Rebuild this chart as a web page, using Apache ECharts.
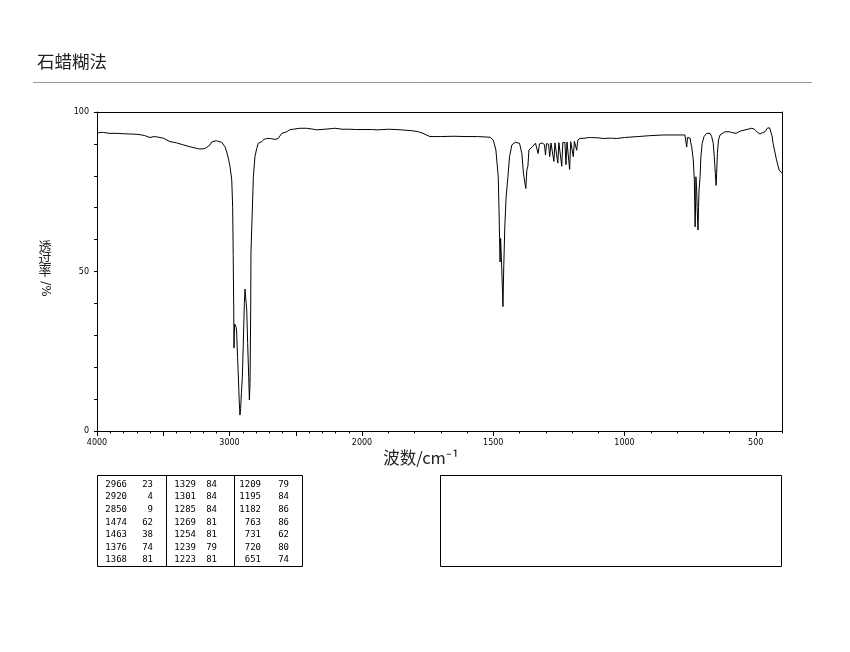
<!DOCTYPE html>
<html>
<head>
<meta charset="utf-8">
<script src="https://cdn.jsdelivr.net/npm/echarts@6/dist/echarts.min.js"></script>
<style>
html,body{margin:0;padding:0;background:#fff;}
#chart{width:850px;height:652px;}
</style>
</head>
<body>
<div id="chart"></div>
<script>
// Spectrum (wavenumber cm-1, transmittance %)
const specWn = [4000,3977,3952,3925,3902,3850,3800,3760,3751,3740,3700,3675,3640,3600,3570,3550,3525,3500,3487,3449,3420,3398,3349,3298,3248,3225,3210,3190,3172,3147,3135,3132,3122,3100,3085,3059,3034,3021,3009,2996,2983,2976,2972,2968,2966,2964,2960,2955,2950,2946,2939,2932,2927,2921,2916,2910,2903,2896,2888,2883,2878,2870,2863,2855,2850,2845,2840,2838,2828,2820,2808,2795,2783,2757,2740,2719,2690,2657,2632,2606,2568,2543,2518,2468,2418,2367,2342,2317,2280,2230,2205,2204,2203,2150,2100,2040,2000,
1960,1940,1900,1870,1850,1806,1785,1768,1741,1700,1650,1600,1560,1512,1500,1490,1481,1478,1476,1474,1472,1468,1463,1460,1456,1451,1444,1438,1429,1416,1400,1391,1385,1380,1376,1372,1368,1364,1351,1339,1335,1329,1324,1315,1305,1301,1297,1289,1285,1280,1273,1269,1265,1258,1254,1250,1243,1239,1235,1227,1223,1219,1213,1209,1205,1199,1195,1191,1186,1182,1178,1170,1150,1138,1132,1131,1130,1100,1082,1050,1030,1000,950,900,850,800,770,763,760,757,750,748,744,738,734,731,729,728,725,723,720,718,716,712,709,704,697,687,674,668,662,658,654,651,649,646,642,636,617,600,592,575,560,554,515,505,496,484,475,465,455,452,447,443,438,434,421,411,400];
const specT = [93.3,93.6,93.6,93.4,93.3,93.3,93.2,93.1,92.8,93.1,93.0,92.9,92.6,92.0,92.3,92.2,92.0,91.8,91.5,90.7,90.5,90.3,89.7,89.1,88.6,88.4,88.3,88.5,88.9,89.7,90.6,90.3,90.8,91.0,90.9,90.5,89.1,87.5,85.5,82.9,78.7,70,55,38,26,31,33.5,33.8,32.5,31,23,15.7,9.7,5,7,12,17,27,40,44.5,42,38,27.5,17,9.7,15,38,55.8,69,79.7,86,88.5,90.2,90.7,91.4,91.7,91.7,91.4,91.7,93.3,93.8,94.5,94.6,94.9,94.9,94.6,94.4,94.5,94.6,94.8,94.9,95.3,94.9,94.6,94.6,94.5,94.5,
94.5,94.4,94.6,94.5,94.4,94.1,93.8,93.3,92.3,92.3,92.4,92.3,92.3,92.1,91.2,88.1,79.7,69.3,60.4,53,60.4,52,39,51.5,64,73.4,79.7,86,89.7,90.5,90.2,87,80.8,78,76,81.8,83,88.1,89.1,90.2,90.2,87,90.0,90.3,89.8,86.5,90.1,89.9,86,90.3,90.1,84.5,90.3,90.2,84,90.4,90.3,83,90.5,90.4,83.5,90.6,90.6,82,90.7,90.7,86,90.8,90.9,88,91.2,91.7,91.8,92.0,92.0,91.5,92.0,91.9,91.7,91.8,91.7,92.0,92.3,92.6,92.8,92.8,92.8,89,92,91.5,91.8,90.5,89.1,85,78.7,64,72,79.7,75.5,69.3,63,70,75.5,79.7,86,90.2,92.3,93.3,93.3,92.3,90.2,86,80.8,77,80.8,87,91.2,92.8,93.8,93.8,93.6,93.3,94.0,94.4,94.9,94.6,93.8,93.1,93.5,93.8,95.0,95.4,95.0,94.4,92.5,90.2,85,81.8,80.8];

// Axis ticks / labels
const xLabelsHigh = [4000, 3000, 2000];
const xMajorHigh = [4000, 3500, 3000, 2500, 2000];
const xLabelsLow = [1500, 1000, 500];
const xMajorLow = [2000, 1500, 1000, 500];
const yLabels = [0, 50, 100];

// Peak table (wavenumber, transmittance), column by column
const peakWn = [2966,2920,2850,1474,1463,1376,1368, 1329,1301,1285,1269,1254,1239,1223, 1209,1195,1182,763,731,720,651];
const peakT  = [23,4,9,62,38,74,81, 84,84,84,81,81,79,81, 79,84,86,86,62,80,74];

const titleText = '石蜡糊法';
const yTitleChars = ['透', '过', '率'];
const yTitleSym = '/%';
const xTitle = '波数/cm⁻¹';

const pairs = specWn.map((w, i) => [w, specT[i]]);
const highData = pairs.filter(p => p[0] >= 2000);
const lowData = pairs.filter(p => p[0] <= 2000);

const chart = echarts.init(document.getElementById('chart'), null, {renderer: 'canvas'});
const tickFont = {fontSize: 8, color: '#000', fontFamily: 'DejaVu Sans', formatter: v => String(v)};
const lineStyle = {color: '#000', width: 1};

function bottomMajor(gi, min, max, majors, labels) {
  return {
    gridIndex: gi, type: 'value', min: min, max: max, inverse: true, position: 'bottom',
    axisLine: {show: true, onZero: false, lineStyle: lineStyle},
    axisTick: {show: true, length: 5, customValues: majors, lineStyle: lineStyle},
    axisLabel: Object.assign({show: true, margin: 8, customValues: labels}, tickFont),
    splitLine: {show: false}
  };
}
function bottomMinor(gi, min, max) {
  return {
    gridIndex: gi, type: 'value', min: min, max: max, inverse: true, position: 'bottom', interval: 100,
    axisLine: {show: false, onZero: false},
    axisTick: {show: true, length: 2.5, lineStyle: lineStyle},
    axisLabel: {show: false}, splitLine: {show: false}
  };
}
function topBorder(gi, min, max) {
  return {
    gridIndex: gi, type: 'value', min: min, max: max, inverse: true, position: 'top',
    axisLine: {show: true, onZero: false, lineStyle: lineStyle},
    axisTick: {show: false}, axisLabel: {show: false}, splitLine: {show: false}
  };
}

const graphics = [
  {type: 'text', x: 37, y: 61, style: {text: titleText, fontSize: 17.5, fill: '#222', verticalAlign: 'middle', fontFamily: 'Noto Sans CJK SC'}},
  {type: 'line', shape: {x1: 33, y1: 82.5, x2: 812, y2: 82.5}, style: {stroke: '#999', lineWidth: 1}},
  {type: 'text', x: 421, y: 458, style: {text: xTitle, fontSize: 16.5, fill: '#222', align: 'center', verticalAlign: 'middle', fontFamily: 'Noto Sans CJK SC'}},
  {type: 'rect', shape: {x: 97.5, y: 475.5, width: 205, height: 91}, style: {fill: 'none', stroke: '#000', lineWidth: 1}},
  {type: 'line', shape: {x1: 166.5, y1: 475.5, x2: 166.5, y2: 566.5}, style: {stroke: '#000', lineWidth: 1}},
  {type: 'line', shape: {x1: 234.5, y1: 475.5, x2: 234.5, y2: 566.5}, style: {stroke: '#000', lineWidth: 1}},
  {type: 'rect', shape: {x: 440.5, y: 475.5, width: 341, height: 91}, style: {fill: 'none', stroke: '#000', lineWidth: 1}}
];
yTitleChars.forEach((ch, i) => {
  graphics.push({type: 'text', x: 45, y: 246 + i * 12, style: {text: ch, fontSize: 13, fill: '#222', align: 'center', verticalAlign: 'middle', fontFamily: 'Noto Sans CJK SC'}});
});
graphics.push({type: 'text', x: 45, y: 289, rotation: -Math.PI / 2, style: {text: yTitleSym, fontSize: 12, fill: '#222', align: 'center', verticalAlign: 'middle', fontFamily: 'DejaVu Sans'}});

const colWnRight = [127, 196, 261];
const colTRight = [153, 217, 289];
for (let i = 0; i < peakWn.length; i++) {
  const c = Math.floor(i / 7), r = i % 7;
  const y = 484.5 + r * 12.6;
  graphics.push({type: 'text', x: colWnRight[c], y: y, style: {text: String(peakWn[i]), fontSize: 9, fill: '#000', align: 'right', verticalAlign: 'middle', fontFamily: 'DejaVu Sans Mono'}});
  graphics.push({type: 'text', x: colTRight[c], y: y, style: {text: String(peakT[i]), fontSize: 9, fill: '#000', align: 'right', verticalAlign: 'middle', fontFamily: 'DejaVu Sans Mono'}});
}

const option = {
  animation: false,
  backgroundColor: '#fff',
  grid: [
    {left: 97, top: 112, width: 265, height: 319, containLabel: false},
    {left: 362, top: 112, width: 420, height: 319, containLabel: false}
  ],
  xAxis: [
    bottomMajor(0, 2000, 4000, xMajorHigh, xLabelsHigh),
    bottomMinor(0, 2000, 4000),
    topBorder(0, 2000, 4000),
    bottomMajor(1, 400, 2000, xMajorLow, xLabelsLow),
    bottomMinor(1, 400, 2000),
    topBorder(1, 400, 2000)
  ],
  yAxis: [
    {gridIndex: 0, type: 'value', min: 0, max: 100, interval: 10, position: 'left',
     axisLine: {show: true, lineStyle: lineStyle},
     axisTick: {show: true, length: 3, lineStyle: lineStyle},
     axisLabel: Object.assign({show: true, margin: 8, customValues: yLabels}, tickFont),
     splitLine: {show: false}},
    {gridIndex: 1, type: 'value', min: 0, max: 100, position: 'right',
     axisLine: {show: true, lineStyle: lineStyle},
     axisTick: {show: false}, axisLabel: {show: false}, splitLine: {show: false}}
  ],
  series: [
    {type: 'line', xAxisIndex: 0, yAxisIndex: 0, data: highData, showSymbol: false, symbol: 'none', lineStyle: lineStyle, silent: true},
    {type: 'line', xAxisIndex: 3, yAxisIndex: 1, data: lowData, showSymbol: false, symbol: 'none', lineStyle: lineStyle, silent: true}
  ],
  graphic: graphics
};
chart.setOption(option);
</script>
</body>
</html>
